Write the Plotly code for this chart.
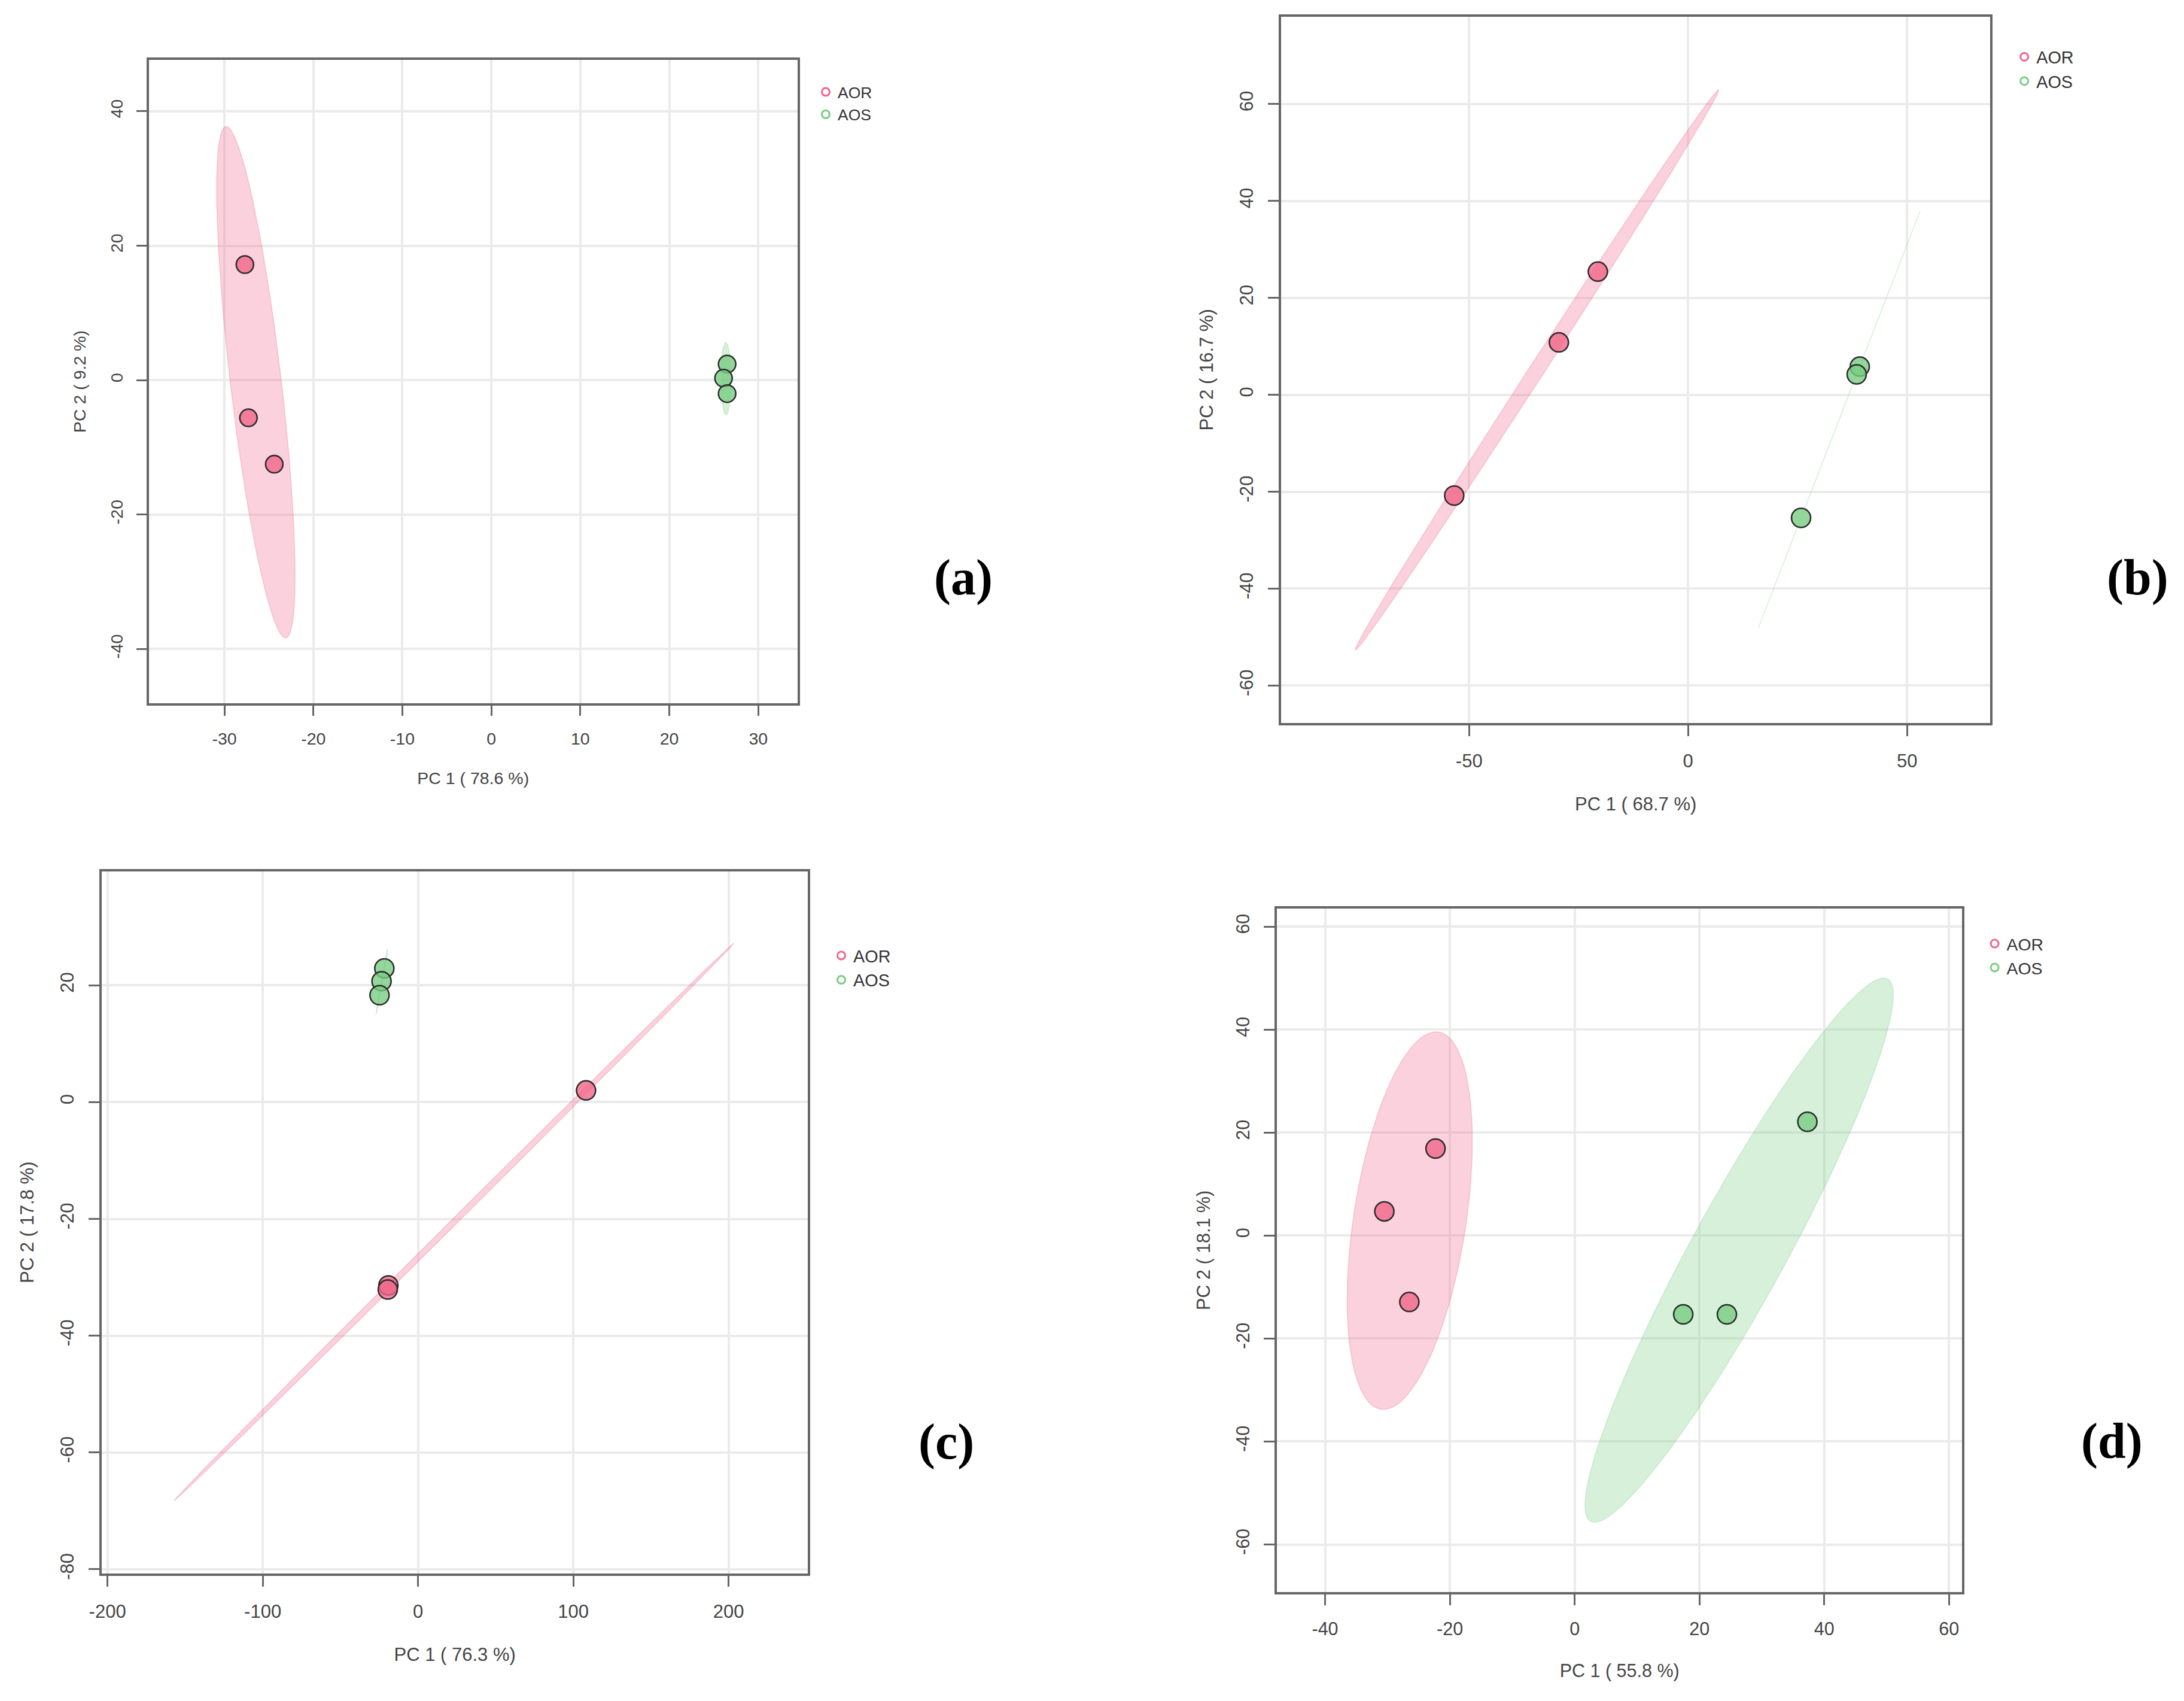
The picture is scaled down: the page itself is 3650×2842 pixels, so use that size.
import numpy as np
import plotly.graph_objects as go

# ---------------- data ----------------
groups = ["AOR", "AOS"]

a_aor_pc1 = [-27.7, -27.3, -24.4]
a_aor_pc2 = [17.2, -5.6, -12.5]
a_aos_pc1 = [26.5, 26.1, 26.5]
a_aos_pc2 = [2.4, 0.3, -2.0]

b_aor_pc1 = [-20.6, -29.5, -53.4]
b_aor_pc2 = [25.4, 10.8, -20.8]
b_aos_pc1 = [39.2, 38.5, 25.8]
b_aos_pc2 = [5.8, 4.2, -25.4]

c_aor_pc1 = [108.2, -19.1, -19.5]
c_aor_pc2 = [2.0, -31.4, -32.1]
c_aos_pc1 = [-21.7, -23.5, -24.8]
c_aos_pc2 = [22.9, 20.7, 18.3]

d_aor_pc1 = [-22.3, -30.5, -26.5]
d_aor_pc2 = [16.9, 4.7, -12.9]
d_aos_pc1 = [37.3, 17.4, 24.4]
d_aos_pc2 = [22.1, -15.3, -15.3]

pc1_variance = [78.6, 68.7, 76.3, 55.8]
pc2_variance = [9.2, 16.7, 17.8, 18.1]
panel_labels = ["(a)", "(b)", "(c)", "(d)"]

a_xticks = [-30, -20, -10, 0, 10, 20, 30]
a_yticks = [-40, -20, 0, 20, 40]
b_xticks = [-50, 0, 50]
b_yticks = [-60, -40, -20, 0, 20, 40, 60]
c_xticks = [-200, -100, 0, 100, 200]
c_yticks = [-80, -60, -40, -20, 0, 20]
d_xticks = [-40, -20, 0, 20, 40, 60]
d_yticks = [-60, -40, -20, 0, 20, 40, 60]

a_xrange, a_yrange = [-38.5, 34.4], [-48.1, 47.7]
b_xrange, b_yrange = [-92.9, 69.0], [-67.7, 78.0]
c_xrange, c_yrange = [-203.6, 251.0], [-80.7, 39.5]
d_xrange, d_yrange = [-47.7, 62.1], [-69.2, 63.5]

# ---------------- styling / layout ----------------
W, H = 3650, 2842
group_rgb = {"AOR": (240, 102, 138), "AOS": (120, 205, 130)}


def hx(x):
    # small horizontal correction of pixel placement
    return (x - 20.7) / 0.994


# plot boxes in pixels: left, top, right, bottom
boxes = [(247.4, 99.9, 1331.4, 1180.0),
         (2140.0, 28.0, 3325.0, 1212.5),
         (169.0, 1461.6, 1348.7, 2639.0),
         (2133.0, 1524.0, 3278.0, 2670.0)]
font_sizes = [28.5, 31, 31, 30.5]
marker_sizes = [29, 32, 32, 32]
legend_pos = [(1376.7, 153.3), (3380.0, 95.0), (1402.8, 1602.4), (3330.4, 1582.3)]
label_pos = [(1609, 969), (3571, 969), (1580, 2418), (3528.5, 2417)]

panels = [
    dict(data={"AOR": (a_aor_pc1, a_aor_pc2), "AOS": (a_aos_pc1, a_aos_pc2)},
         xt=a_xticks, yt=a_yticks, xr=a_xrange, yr=a_yrange),
    dict(data={"AOR": (b_aor_pc1, b_aor_pc2), "AOS": (b_aos_pc1, b_aos_pc2)},
         xt=b_xticks, yt=b_yticks, xr=b_xrange, yr=b_yrange),
    dict(data={"AOR": (c_aor_pc1, c_aor_pc2), "AOS": (c_aos_pc1, c_aos_pc2)},
         xt=c_xticks, yt=c_yticks, xr=c_xrange, yr=c_yrange),
    dict(data={"AOR": (d_aor_pc1, d_aor_pc2), "AOS": (d_aos_pc1, d_aos_pc2)},
         xt=d_xticks, yt=d_yticks, xr=d_xrange, yr=d_yrange),
]


def rgba(rgb, a):
    return "rgba(%d,%d,%d,%.2f)" % (rgb[0], rgb[1], rgb[2], a)


def conf_ellipse(xs, ys, level=0.95, npoints=100):
    """95% confidence ellipse (as in R's ellipse package) from the points."""
    x = np.asarray(xs, float)
    y = np.asarray(ys, float)
    cov = np.cov(np.vstack([x, y]), ddof=1)
    sx, sy = np.sqrt(cov[0, 0]), np.sqrt(cov[1, 1])
    r = np.clip(cov[0, 1] / (sx * sy), -1.0, 1.0)
    d = np.arccos(r)
    t = np.sqrt(-2.0 * np.log(1.0 - level))  # sqrt(qchisq(level, 2))
    a = np.linspace(0, 2 * np.pi, npoints)
    ex = t * sx * np.cos(a + d / 2) + x.mean()
    ey = t * sy * np.cos(a - d / 2) + y.mean()
    return ex, ey


FONT = "Liberation Sans, Arial, sans-serif"
AX_COLOR = "#666666"
TXT_COLOR = "#444444"

fig = go.Figure()
layout = dict(width=W, height=H, margin=dict(l=0, r=0, t=0, b=0),
              paper_bgcolor="white", plot_bgcolor="white", annotations=[])

for i, p in enumerate(panels):
    sfx = "" if i == 0 else str(i + 1)
    xa, ya = "x" + sfx, "y" + sfx
    lg = "legend" + sfx
    fs = font_sizes[i]
    k = fs / 28.5

    # ellipses first
    for g in groups:
        xs, ys = p["data"][g]
        ex, ey = conf_ellipse(xs, ys)
        fig.add_trace(go.Scatter(x=ex, y=ey, mode="lines", fill="toself",
                                 fillcolor=rgba(group_rgb[g], 0.30),
                                 line=dict(color=rgba(group_rgb[g], 0.30), width=1.5),
                                 hoverinfo="skip", showlegend=False,
                                 xaxis=xa, yaxis=ya))
    # points
    for g in groups:
        xs, ys = p["data"][g]
        fig.add_trace(go.Scatter(x=xs, y=ys, mode="markers", name=g,
                                 marker=dict(size=marker_sizes[i],
                                             color=rgba(group_rgb[g], 0.80),
                                             line=dict(color="#2b2b2b", width=2.5)),
                                 showlegend=False, xaxis=xa, yaxis=ya))
    # legend entries (open circles)
    for g in groups:
        fig.add_trace(go.Scatter(x=[None], y=[None], mode="markers", name=g,
                                 marker=dict(symbol="circle-open", size=13,
                                             color=rgba(group_rgb[g], 1.0),
                                             line=dict(width=3)),
                                 showlegend=True, legend=lg, xaxis=xa, yaxis=ya))

    l, t, r, b = boxes[i]
    l, r = hx(l), hx(r)
    common = dict(showline=True, linecolor=AX_COLOR, linewidth=3.5, mirror=True,
                  ticks="outside", ticklen=17 * k, tickwidth=3, tickcolor=AX_COLOR,
                  showgrid=True, gridcolor="#ebebeb", gridwidth=4, zeroline=False,
                  tickfont=dict(family=FONT, size=fs, color=TXT_COLOR))
    layout["xaxis" + sfx] = dict(common, domain=[l / W, r / W], anchor=ya,
                                 range=p["xr"], tickvals=p["xt"],
                                 ticktext=[str(v) for v in p["xt"]],
                                 ticklabelstandoff=int(14 * k),
                                 title=dict(text="PC 1 ( %.1f %%)" % pc1_variance[i],
                                            font=dict(family=FONT, size=fs, color=TXT_COLOR),
                                            standoff=int(42 * k)))
    layout["yaxis" + sfx] = dict(common, domain=[1 - b / H, 1 - t / H], anchor=xa,
                                 range=p["yr"], tickvals=p["yt"],
                                 ticktext=[str(v) for v in p["yt"]], tickangle=-90,
                                 ticklabelstandoff=int(12 * k),
                                 title=dict(text="PC 2 ( %.1f %%)" % pc2_variance[i],
                                            font=dict(family=FONT, size=fs, color=TXT_COLOR),
                                            standoff=int(28 * k)))
    cx, cy = legend_pos[i]
    lfs = 0.93 * fs
    layout[lg] = dict(x=hx(cx - 18) / W, y=1 - (cy - 23 * k) / H, xanchor="left", yanchor="top",
                      xref="paper", yref="paper", bgcolor="rgba(0,0,0,0)", borderwidth=0,
                      font=dict(family=FONT, size=lfs, color="#333333"),
                      itemwidth=30, tracegroupgap=0)
    lx, ly = label_pos[i]
    layout["annotations"].append(dict(text="<b>%s</b>" % panel_labels[i],
                                      x=hx(lx) / W, y=1 - ly / H, xref="paper", yref="paper",
                                      xanchor="center", yanchor="middle", showarrow=False,
                                      font=dict(family="Liberation Serif, Times New Roman, serif",
                                                size=84, color="black")))

fig.update_layout(**layout)
fig.write_html("out.html", config={"displayModeBar": False},
               post_script="document.body.style.margin='0px';document.body.style.overflow='hidden';")
